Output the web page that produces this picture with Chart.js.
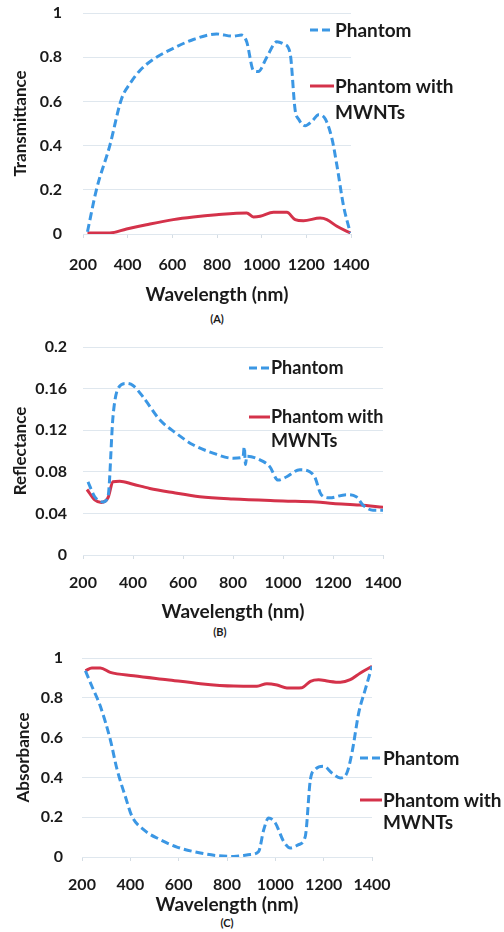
<!DOCTYPE html>
<html>
<head>
<meta charset="utf-8">
<script src="https://cdn.jsdelivr.net/npm/chart.js@4.4.0/dist/chart.umd.min.js"></script>
<style>
  body { margin: 0; background: #fff; width: 504px; height: 932px; position: relative; overflow: hidden;
         font-family: Lato, "Open Sans", sans-serif; font-weight: bold; color: #1a1a1a; }
  canvas { position: absolute; left: 0; }
  .leg { position: absolute; white-space: nowrap; line-height: 1; }
  .sub { position: absolute; font-size: 11px; transform: translateX(-50%); line-height: 1; }
  svg { position: absolute; overflow: visible; }
</style>
</head>
<body>
<canvas id="chartA" width="504" height="306"></canvas>
<canvas id="chartB" width="504" height="293"></canvas>
<canvas id="chartC" width="504" height="276"></canvas>

<script>
// (A) transmittance
const waveTransPhantom = [220, 260, 320, 372, 410, 455, 514, 604, 694, 798, 873, 910, 933, 963, 985, 1023, 1068, 1098, 1127, 1150, 1165, 1195, 1225, 1255, 1285, 1315, 1337, 1367, 1397];
const transPhantom     = [0.01, 0.20, 0.40, 0.61, 0.68, 0.74, 0.79, 0.84, 0.88, 0.905, 0.895, 0.90, 0.87, 0.74, 0.735, 0.80, 0.87, 0.86, 0.82, 0.56, 0.52, 0.49, 0.51, 0.54, 0.52, 0.43, 0.31, 0.125, 0.005];
const waveTransMwnt    = [220, 320, 395, 484, 604, 694, 798, 933, 963, 993, 1053, 1113, 1150, 1187, 1262, 1292, 1337, 1397];
const transMwnt        = [0.005, 0.005, 0.023, 0.042, 0.065, 0.077, 0.087, 0.095, 0.077, 0.08, 0.098, 0.098, 0.065, 0.06, 0.072, 0.065, 0.035, 0.005];

// (B) reflectance
const waveReflPhantom = [220, 247, 280, 300, 320, 340, 373, 400, 440, 507, 573, 640, 720, 800, 840, 845, 850, 855, 920, 947, 980, 1013, 1067, 1107, 1127, 1153, 1187, 1253, 1293, 1320, 1360, 1400];
const reflPhantom     = [0.0704, 0.056, 0.051, 0.056, 0.133, 0.160, 0.165, 0.163, 0.152, 0.130, 0.117, 0.106, 0.098, 0.093, 0.094, 0.104, 0.087, 0.095, 0.090, 0.085, 0.072, 0.075, 0.082, 0.080, 0.075, 0.058, 0.055, 0.058, 0.056, 0.048, 0.043, 0.043];
const waveReflMwnt    = [216, 247, 273, 300, 320, 347, 400, 467, 560, 667, 800, 1000, 1133, 1200, 1307, 1400];
const reflMwnt        = [0.063, 0.053, 0.0506, 0.055, 0.0704, 0.071, 0.068, 0.064, 0.060, 0.056, 0.0538, 0.052, 0.051, 0.0496, 0.048, 0.0458];

// (C) absorbance
const waveAbsPhantom = [214, 241, 276, 317, 345, 379, 407, 455, 524, 593, 690, 759, 828, 896, 931, 952, 972, 1000, 1034, 1062, 1096, 1124, 1145, 1165, 1200, 1234, 1269, 1296, 1317, 1345, 1372, 1400];
const absPhantom     = [0.936, 0.858, 0.757, 0.59, 0.44, 0.305, 0.204, 0.137, 0.087, 0.05, 0.02, 0.007, 0.003, 0.012, 0.028, 0.137, 0.196, 0.171, 0.079, 0.045, 0.062, 0.104, 0.389, 0.44, 0.456, 0.422, 0.397, 0.422, 0.523, 0.724, 0.841, 0.958];
const waveAbsMwnt    = [214, 241, 276, 317, 414, 552, 690, 828, 924, 965, 1007, 1048, 1110, 1145, 1179, 1221, 1269, 1310, 1352, 1400];
const absMwnt        = [0.936, 0.95, 0.95, 0.928, 0.911, 0.891, 0.871, 0.859, 0.858, 0.871, 0.864, 0.849, 0.851, 0.883, 0.891, 0.883, 0.878, 0.891, 0.925, 0.958];

const xTicks = [200, 400, 600, 800, 1000, 1200, 1400];
const seriesNames = ['Phantom', 'Phantom with MWNTs'];

const BLUE = '#3b97e4';
const RED = '#d4324a';
const INK = '#1a1a1a';
const FONT = 'Lato, "Open Sans", sans-serif';

function pts(xs, ys) {
  return xs.map((x, i) => ({ x: x, y: ys[i] }));
}

function makeChart(id, o) {
  const cv = document.getElementById(id);
  cv.style.top = o.top + 'px';
  return new Chart(cv, {
    type: 'line',
    data: {
      datasets: [
        { label: seriesNames[0], data: pts(o.x1, o.y1), borderColor: BLUE, borderWidth: 3, borderDash: [8, 4],
          pointRadius: 0, cubicInterpolationMode: 'monotone', fill: false },
        { label: seriesNames[1], data: pts(o.x2, o.y2), borderColor: RED, borderWidth: 3,
          pointRadius: 0, cubicInterpolationMode: 'monotone', fill: false }
      ]
    },
    options: {
      responsive: false,
      animation: false,
      events: [],
      layout: { padding: { top: o.padTop, right: o.padRight, left: 0, bottom: 0 } },
      plugins: { legend: { display: false }, tooltip: { enabled: false } },
      scales: {
        x: {
          type: 'linear', min: 200, max: 1400,
          afterBuildTicks: s => { s.ticks = xTicks.map(v => ({ value: v })); },
          afterFit: s => { s.height = o.xHeight; s.paddingLeft = 0; s.paddingRight = 0; },
          border: { display: false },
          grid: { drawOnChartArea: false, drawTicks: true, tickLength: 4, color: '#d5dde4' },
          ticks: { padding: o.xTickPad, color: INK, maxRotation: 0, font: { family: FONT, size: 16, weight: 'bold' },
                   callback: v => String(v) },
          title: { display: true, text: 'Wavelength (nm)', color: INK, padding: { top: 0, bottom: 0 },
                   font: { family: FONT, size: 19, weight: 'bold' } }
        },
        y: {
          min: 0, max: o.yMax,
          ticks: { stepSize: o.yStep, padding: o.yTickPad, color: INK,
                   font: { family: FONT, size: 16, weight: 'bold' },
                   callback: v => String(parseFloat(v.toFixed(2))) },
          afterFit: s => { s.width = o.left; s.paddingTop = 0; s.paddingBottom = 0; },
          border: { display: false },
          grid: { color: '#dfe7ee', lineWidth: 1, drawTicks: false },
          title: { display: true, text: o.yTitle, color: INK, padding: { top: o.yTitlePad, bottom: 0 },
                   font: { family: FONT, size: 17, weight: 'bold' } }
        }
      }
    }
  });
}

makeChart('chartA', { top: 0, left: 83, padTop: 13, padRight: 153, xHeight: 72, xTickPad: 17,
  yMax: 1, yStep: 0.2, yTickPad: 21, yTitle: 'Transmittance', yTitlePad: 10,
  x1: waveTransPhantom, y1: transPhantom, x2: waveTransMwnt, y2: transMwnt });

makeChart('chartB', { top: 330, left: 83, padTop: 17, padRight: 121, xHeight: 68, xTickPad: 14,
  yMax: 0.2, yStep: 0.04, yTickPad: 16, yTitle: 'Reflectance', yTitlePad: 10,
  x1: waveReflPhantom, y1: reflPhantom, x2: waveReflMwnt, y2: reflMwnt });

makeChart('chartC', { top: 640, left: 82, padTop: 18, padRight: 132, xHeight: 59, xTickPad: 14,
  yMax: 1, yStep: 0.2, yTickPad: 19, yTitle: 'Absorbance', yTitlePad: 13,
  x1: waveAbsPhantom, y1: absPhantom, x2: waveAbsMwnt, y2: absMwnt });

// legends and panel letters as html text
function legendEntry(lineX, lineW, y, lines, dashed, color, size, gap) {
  const ns = 'http://www.w3.org/2000/svg';
  const svg = document.createElementNS(ns, 'svg');
  svg.setAttribute('width', lineW);
  svg.setAttribute('height', 4);
  svg.style.left = lineX + 'px';
  svg.style.top = (y - 2) + 'px';
  const ln = document.createElementNS(ns, 'line');
  ln.setAttribute('x1', 0); ln.setAttribute('x2', lineW);
  ln.setAttribute('y1', 2); ln.setAttribute('y2', 2);
  ln.setAttribute('stroke', color);
  ln.setAttribute('stroke-width', 3);
  if (dashed) ln.setAttribute('stroke-dasharray', '8 4');
  svg.appendChild(ln);
  document.body.appendChild(svg);
  lines.forEach((t, i) => {
    const d = document.createElement('div');
    d.className = 'leg';
    d.textContent = t;
    d.style.fontSize = size + 'px';
    d.style.left = (lineX + lineW + 1) + 'px';
    d.style.top = (y + i * gap - size * 0.55) + 'px';
    document.body.appendChild(d);
  });
}

function panelLetter(txt, x, y) {
  const d = document.createElement('div');
  d.className = 'sub';
  d.textContent = txt;
  d.style.left = x + 'px';
  d.style.top = (y - 6) + 'px';
  document.body.appendChild(d);
}

legendEntry(310, 24, 30, ['Phantom'], true, BLUE, 19, 0);
legendEntry(310, 24, 86, ['Phantom with', 'MWNTs'], false, RED, 19, 26);
legendEntry(249, 21, 368, ['Phantom'], true, BLUE, 18, 0);
legendEntry(249, 21, 417, ['Phantom with', 'MWNTs'], false, RED, 18, 24);
legendEntry(360, 22, 758, ['Phantom'], true, BLUE, 19, 0);
legendEntry(360, 22, 800, ['Phantom with', 'MWNTs'], false, RED, 19, 22);

panelLetter('(A)', 217, 319);
panelLetter('(B)', 220, 632);
panelLetter('(C)', 227, 923);
</script>
</body>
</html>
